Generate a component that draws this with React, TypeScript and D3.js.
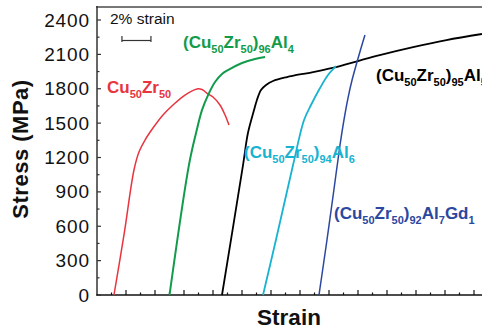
import React from "react";
import * as d3 from "d3";

// Strain (%) vs stress (MPa)
const cuZrStrain = [1.17, 1.86, 2.55, 2.9, 3.3, 3.86, 4.55, 5.24, 6.07, 6.9, 7.24, 7.66, 8.0, 8.48, 8.83, 9.1];
const cuZrStress = [0, 524, 1091, 1250, 1350, 1457, 1571, 1658, 1745, 1798, 1793, 1754, 1728, 1658, 1571, 1484];

const al4Strain = [5.0, 6.34, 6.83, 7.24, 7.66, 8.14, 8.62, 9.03, 10.0, 10.9, 11.59];
const al4Stress = [0, 1134, 1414, 1614, 1745, 1859, 1929, 1963, 2025, 2060, 2077];

const al5Strain = [8.62, 10.07, 10.41, 10.83, 11.03, 11.31, 11.66, 12.14, 13.1, 14.9, 16.76, 18.0, 19.5, 21.8, 24.1, 26.55];
const al5Stress = [0, 1134, 1414, 1614, 1702, 1789, 1833, 1868, 1902, 1946, 1998, 2042, 2094, 2164, 2225, 2278];

const al6Strain = [11.45, 12.34, 13.52, 14.28, 14.76, 15.38, 15.93, 16.48];
const al6Stress = [0, 480, 1134, 1527, 1658, 1806, 1920, 1998];

const gdStrain = [15.31, 15.86, 16.28, 16.76, 17.03, 17.31, 17.59, 17.93, 18.21, 18.48];
const gdStress = [0, 480, 864, 1309, 1527, 1719, 1876, 2033, 2156, 2269];

const yTicks = [0, 300, 600, 900, 1200, 1500, 1800, 2100, 2400];
const yMinorTicks = [150, 450, 750, 1050, 1350, 1650, 1950, 2250];
const xMajorTicks = [2, 4, 6, 8, 10, 12, 14, 16, 18, 20, 22, 24, 26];
const xMinorTicks = [1, 3, 5, 7, 9, 11, 13, 15, 17, 19, 21, 23, 25];

const W = 482;
const H = 329;
const FONT = "'Liberation Sans', Arial, Helvetica, sans-serif";

const x = d3.scaleLinear().domain([0, 27]).range([97, 97 + 27 * 14.5]);
const y = d3.scaleLinear().domain([0, 2400]).range([295, 20]);

const zip = (a: number[], b: number[]) => a.map((v, i) => [v, b[i]] as [number, number]);

const line = d3
  .line<[number, number]>()
  .x((d) => x(d[0]))
  .y((d) => y(d[1]))
  .curve(d3.curveCatmullRom.alpha(0.5));

type Part = { t: string; sub?: boolean };

function Formula({ parts, px, py, color }: { parts: Part[]; px: number; py: number; color: string }) {
  let prevSub = false;
  return (
    <text x={px} y={py} fill={color} fontFamily={FONT} fontWeight="bold" fontSize={17}>
      {parts.map((p, i) => {
        let dy = 0;
        if (p.sub && !prevSub) dy = 5;
        if (!p.sub && prevSub) dy = -5;
        prevSub = !!p.sub;
        return (
          <tspan key={i} dy={dy} fontSize={p.sub ? 11 : 17}>
            {p.t}
          </tspan>
        );
      })}
    </text>
  );
}

const cuzr = (n: string, a: string, m: string, extra?: Part[]): Part[] => [
  { t: "(Cu" },
  { t: "50", sub: true },
  { t: "Zr" },
  { t: "50", sub: true },
  { t: ")" },
  { t: n, sub: true },
  { t: a },
  { t: m, sub: true },
  ...(extra || []),
];

export default function App() {
  const series = [
    { s: cuZrStrain, v: cuZrStress, c: "#e8343f", w: 1.5 },
    { s: al4Strain, v: al4Stress, c: "#129b4a", w: 2 },
    { s: al5Strain, v: al5Stress, c: "#000000", w: 1.8 },
    { s: al6Strain, v: al6Stress, c: "#17b3d0", w: 1.8 },
    { s: gdStrain, v: gdStress, c: "#2b47a0", w: 1.5 },
  ];
  return (
    <svg width={W} height={H} style={{ position: "absolute", left: 0, top: 0, background: "#fff" }}>
      {/* frame */}
      <line x1={96} x2={W} y1={7} y2={7} stroke="#777" strokeWidth={2} />
      <line x1={97} x2={97} y1={6} y2={295.5} stroke="#333" strokeWidth={1.5} />
      <line x1={96.3} x2={W} y1={295} y2={295} stroke="#111" strokeWidth={1.5} />

      {/* y ticks */}
      {yTicks.map((t) => (
        <g key={"y" + t}>
          <line x1={97} x2={101} y1={y(t)} y2={y(t)} stroke="#333" strokeWidth={1.2} />
          <text
            x={90}
            y={y(t)}
            textAnchor="end"
            dominantBaseline="central"
            fontFamily={FONT}
            fontSize={19}
            letterSpacing={0.9}
            fill="#111"
          >
            {t}
          </text>
        </g>
      ))}
      {yMinorTicks.map((t) => (
        <line key={"ym" + t} x1={97} x2={99.5} y1={y(t)} y2={y(t)} stroke="#333" strokeWidth={1.2} />
      ))}

      {/* x ticks */}
      {xMajorTicks.map((t) => (
        <line key={"x" + t} x1={x(t)} x2={x(t)} y1={295} y2={290} stroke="#111" strokeWidth={1.2} />
      ))}
      {xMinorTicks.map((t) => (
        <line key={"xm" + t} x1={x(t)} x2={x(t)} y1={295} y2={292.5} stroke="#111" strokeWidth={1.2} />
      ))}

      {/* curves */}
      {series.map((sr, i) => (
        <path key={i} d={line(zip(sr.s, sr.v)) || ""} fill="none" stroke={sr.c} strokeWidth={sr.w} strokeLinejoin="round" />
      ))}

      {/* scale bar */}
      <text x={110} y={24} fontFamily={FONT} fontSize={15.5} fill="#111">
        2% strain
      </text>
      <line x1={x(1.72)} x2={x(3.72)} y1={40.5} y2={40.5} stroke="#333" strokeWidth={1.2} />
      <line x1={x(1.72)} x2={x(1.72)} y1={36} y2={42} stroke="#333" strokeWidth={1.2} />
      <line x1={x(3.72)} x2={x(3.72)} y1={36} y2={42} stroke="#333" strokeWidth={1.2} />

      {/* labels */}
      <Formula px={107} py={93} color="#e8343f" parts={[{ t: "Cu" }, { t: "50", sub: true }, { t: "Zr" }, { t: "50", sub: true }]} />
      <Formula px={183} py={48} color="#129b4a" parts={cuzr("96", "Al", "4")} />
      <Formula px={376} py={81} color="#000" parts={cuzr("95", "Al", "5")} />
      <Formula px={244} py={158} color="#17b3d0" parts={cuzr("94", "Al", "6")} />
      <Formula px={334} py={219} color="#2b47a0" parts={cuzr("92", "Al", "7", [{ t: "Gd" }, { t: "1", sub: true }])} />

      {/* axis titles */}
      <text
        transform={`translate(28,149) rotate(-90)`}
        textAnchor="middle"
        fontFamily={FONT}
        fontWeight="bold"
        fontSize={22}
        letterSpacing={0.5}
        fill="#111"
      >
        Stress (MPa)
      </text>
      <text x={289} y={325} textAnchor="middle" fontFamily={FONT} fontWeight="bold" fontSize={22.5} fill="#111">
        Strain
      </text>
    </svg>
  );
}
